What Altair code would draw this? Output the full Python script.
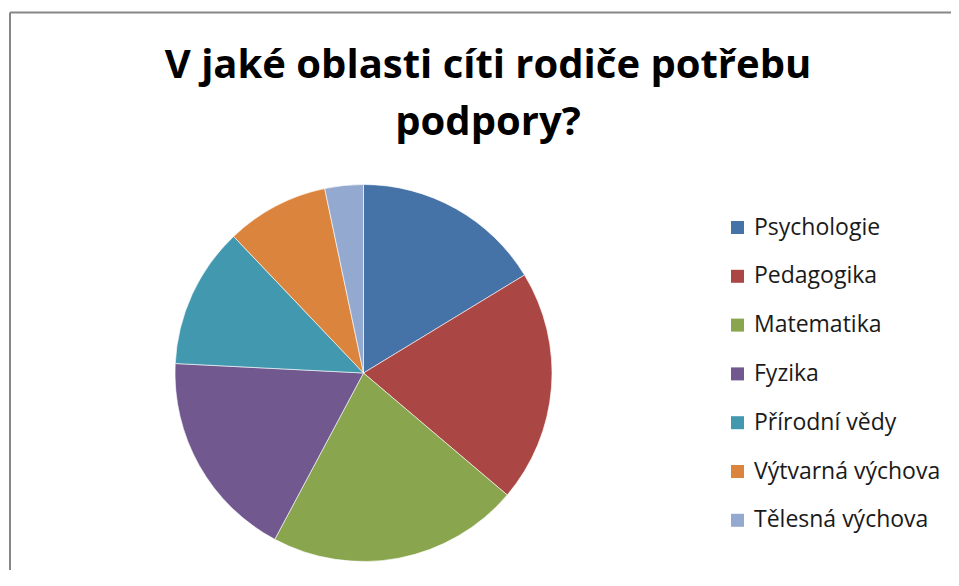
import altair as alt
import pandas as pd

categories = ["Psychologie", "Pedagogika", "Matematika", "Fyzika",
              "Přírodní vědy", "Výtvarná výchova", "Tělesná výchova"]
values = [16.3, 19.9, 21.6, 18.0, 12.1, 8.8, 3.3]
colors = ["#4572A7", "#AA4643", "#89A54E", "#71588F", "#4198AF", "#DB843D", "#93A9CF"]
title_lines = ["V jaké oblasti cíti rodiče potřebu", "podpory?"]

df = pd.DataFrame({"kategorie": categories, "hodnota": values,
                   "poradi": list(range(len(categories)))})

W, H = 943, 562
CX, CY, R = 355.5, 365, 188.5

pie = alt.Chart(df).mark_arc(outerRadius=R, stroke="white", strokeWidth=0.6).encode(
    theta=alt.Theta("hodnota:Q", stack=True),
    order=alt.Order("poradi:Q"),
    color=alt.Color(
        "kategorie:N",
        scale=alt.Scale(domain=categories, range=colors),
        sort=categories,
        legend=alt.Legend(
            title=None, orient="none", legendX=718, legendY=208,
            symbolType="square", symbolSize=169, symbolStrokeWidth=0,
            labelFont="Open Sans", labelFontSize=23, labelColor="#1a1a1a",
            labelOffset=5, rowPadding=24.8, padding=0, labelLimit=400,
        ),
    ),
    x=alt.value(CX),
    y=alt.value(CY),
)

title_df = pd.DataFrame({"t": ["\n".join(title_lines)]})
title = alt.Chart(title_df).mark_text(
    font="Open Sans", fontWeight="bold", fontSize=40, color="#000000",
    align="center", baseline="alphabetic", lineBreak="\n", lineHeight=57,
).encode(text="t:N", x=alt.value(480), y=alt.value(69.5))

border_df = pd.DataFrame({"k": [0]})
top_rule = alt.Chart(border_df).mark_rule(color="#878787", strokeWidth=2).encode(
    x=alt.value(2), x2=alt.value(W), y=alt.value(4.5))
left_rule = alt.Chart(border_df).mark_rule(color="#878787", strokeWidth=2).encode(
    x=alt.value(2), y=alt.value(4.5), y2=alt.value(H))

chart = alt.layer(top_rule, left_rule, pie, title).properties(
    width=W, height=H, padding=0, autosize=alt.AutoSizeParams(type="none"),
    background="white",
).configure_view(stroke=None)

chart.save("out.html", embed_options={"renderer": "svg", "actions": False})
